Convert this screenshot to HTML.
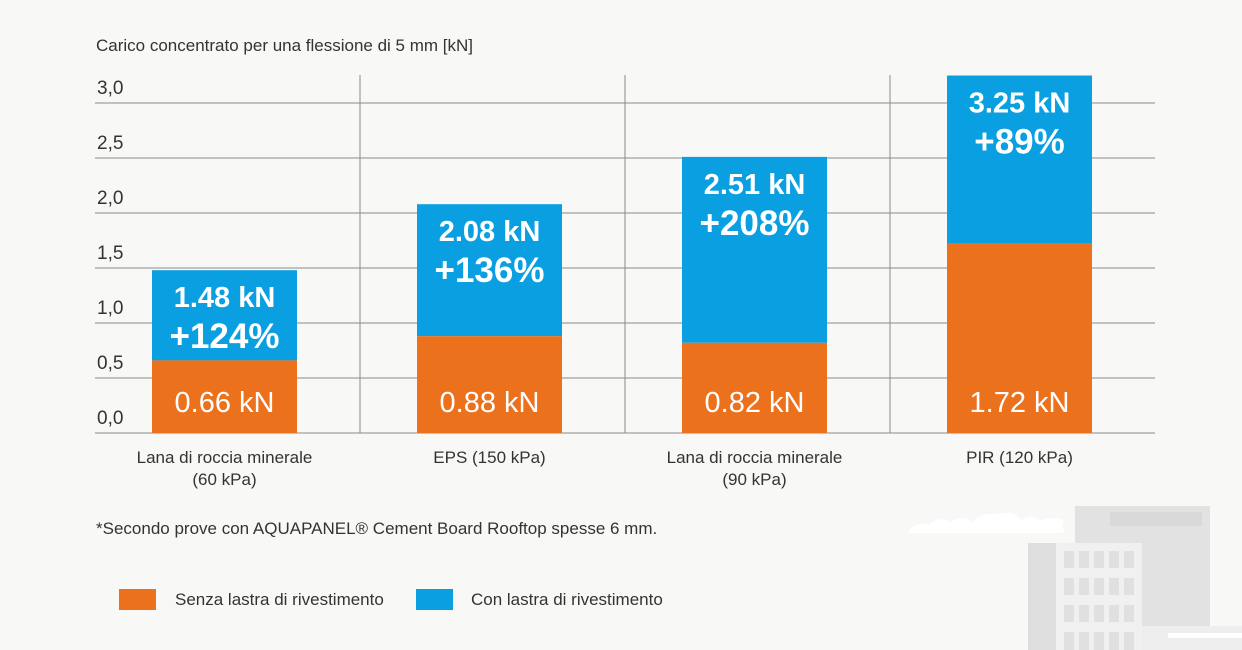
<!DOCTYPE html>
<html><head><meta charset="utf-8"><style>
body{margin:0;background:#f8f8f7;font-family:"Liberation Sans",sans-serif;}
svg{display:block}
</style></head><body>
<svg width="1242" height="650" xmlns="http://www.w3.org/2000/svg">
<rect width="1242" height="650" fill="#f8f8f7"/>
<g>
<path d="M907 533 q8-12 22-8 q10-10 22-3 q12-8 22 0 q8-10 26-8 q16-4 22 6 q10-6 20 0 q10-4 24 0 q-5 4 0 13 z" fill="#ffffff"/>
<rect x="1075" y="506" width="135" height="120" fill="#e2e2e2"/>
<rect x="1110" y="512" width="92" height="14" fill="#d9d9d9"/>
<rect x="1028" y="543" width="28" height="107" fill="#dedede"/>
<rect x="1056" y="543" width="86" height="107" fill="#f0f0f0"/>
<g fill="#e0e0e0">
<rect x="1064" y="551" width="10" height="17"/><rect x="1079" y="551" width="10" height="17"/><rect x="1094" y="551" width="10" height="17"/><rect x="1109" y="551" width="10" height="17"/><rect x="1124" y="551" width="10" height="17"/>
<rect x="1064" y="578" width="10" height="17"/><rect x="1079" y="578" width="10" height="17"/><rect x="1094" y="578" width="10" height="17"/><rect x="1109" y="578" width="10" height="17"/><rect x="1124" y="578" width="10" height="17"/>
<rect x="1064" y="605" width="10" height="17"/><rect x="1079" y="605" width="10" height="17"/><rect x="1094" y="605" width="10" height="17"/><rect x="1109" y="605" width="10" height="17"/><rect x="1124" y="605" width="10" height="17"/>
<rect x="1064" y="632" width="10" height="18"/><rect x="1079" y="632" width="10" height="18"/><rect x="1094" y="632" width="10" height="18"/><rect x="1109" y="632" width="10" height="18"/><rect x="1124" y="632" width="10" height="18"/>
</g>
<rect x="1142" y="626" width="100" height="24" fill="#eeeeee"/>
<rect x="1168" y="633" width="74" height="5" fill="#ffffff"/>
</g>
<text x="96" y="51" font-size="17" fill="#333">Carico concentrato per una flessione di 5 mm [kN]</text>
<g id="grid"></g>
<g id="bars"></g>
<text x="96" y="534" font-size="17" fill="#333">*Secondo prove con AQUAPANEL® Cement Board Rooftop spesse 6 mm.</text>
<g>
<rect x="119" y="589" width="37" height="21" fill="#ec711d"/>
<text x="175" y="605" font-size="17" fill="#333">Senza lastra di rivestimento</text>
<rect x="416" y="589" width="37" height="21" fill="#0a9fe0"/>
<text x="471" y="605" font-size="17" fill="#333">Con lastra di rivestimento</text>
</g>
</svg>
<script>
const categories=[["Lana di roccia minerale","(60 kPa)"],["EPS (150 kPa)"],["Lana di roccia minerale","(90 kPa)"],["PIR (120 kPa)"]];
const baseValues=[0.66,0.88,0.82,1.72];
const totalValues=[1.48,2.08,2.51,3.25];
const pctLabels=["+124%","+136%","+208%","+89%"];
const yTicks=[0,0.5,1,1.5,2,2.5,3];
const yTickLabels=["0,0","0,5","1,0","1,5","2,0","2,5","3,0"];
const NS="http://www.w3.org/2000/svg";
const y=v=>433-v*110;
const bandX=i=>95+i*265;
function mk(t,a,p){const e=document.createElementNS(NS,t);for(const k in a)e.setAttribute(k,a[k]);p.appendChild(e);return e;}
const grid=document.getElementById('grid'),bars=document.getElementById('bars');
yTicks.forEach((t,i)=>{
 const l=mk('line',{x1:95,x2:1155,y1:y(t),y2:y(t),stroke:'#8a8a8a','stroke-width':1},grid);
 
 
 const tx=mk('text',{x:97,y:y(t)-9,'font-size':19,fill:'#333'},grid);tx.textContent=yTickLabels[i];
 
 
});
for(let i=1;i<categories.length;i++){
 const d=mk('line',{x1:bandX(i),x2:bandX(i),y1:75,y2:433,stroke:'#8a8a8a','stroke-width':1},grid);
 
 
}
categories.forEach((c,i)=>{
 const x0=bandX(i)+57,w=145,cx=x0+w/2;
 const top=mk('rect',{x:x0,y:y(totalValues[i]),width:w,height:y(baseValues[i])-y(totalValues[i]),fill:'#0a9fe0'},bars);
 
 
 const b=mk('rect',{x:x0,y:y(baseValues[i]),width:w,height:433-y(baseValues[i]),fill:'#ec711d'},bars);
 
 
 const t1=mk('text',{x:cx,y:y(totalValues[i])+37,'font-size':29,'font-weight':'bold',fill:'#fff','text-anchor':'middle'},bars);
 t1.textContent=totalValues[i].toFixed(2)+" kN";
 
 
 const t2=mk('text',{x:cx,y:y(totalValues[i])+78,'font-size':35,'font-weight':'bold',fill:'#fff','text-anchor':'middle'},bars);
 t2.textContent=pctLabels[i];
 
 
 const t3=mk('text',{x:cx,y:412,'font-size':29,fill:'#fff','text-anchor':'middle'},bars);
 t3.textContent=baseValues[i].toFixed(2)+" kN";
 
 
 c.forEach((line,j)=>{
  const cl=mk('text',{x:cx,y:463+j*22,'font-size':17,fill:'#333','text-anchor':'middle'},bars);
  cl.textContent=line;
  
  
 });
});
</script>
</body></html>
